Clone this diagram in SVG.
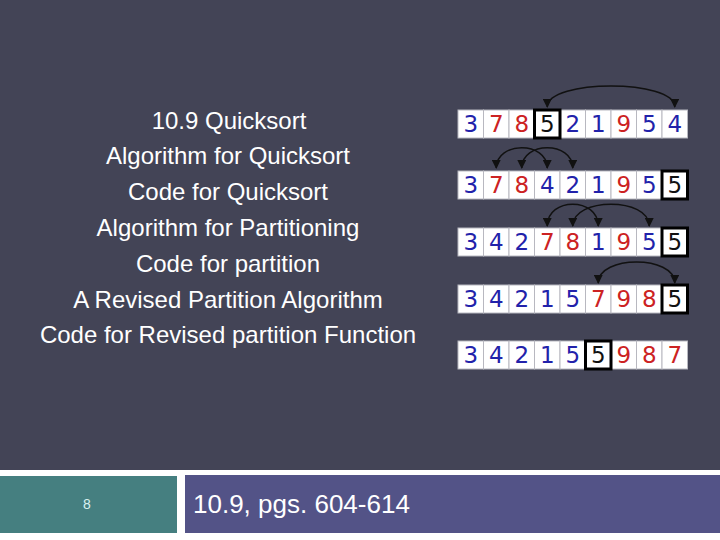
<svg xmlns="http://www.w3.org/2000/svg" width="720" height="540" viewBox="0 0 720 540">
<defs>
<style>
.t{font-family:"Liberation Sans",Arial,sans-serif;font-size:24px;fill:#ffffff;text-anchor:middle}
.c{fill:#ffffff;stroke:#b8b8c0;stroke-width:1}
.k{fill:#ffffff;stroke:#000000;stroke-width:3}
.d{font-family:"DejaVu Sans",sans-serif;font-size:23px;text-anchor:middle}
.b{fill:#2222aa}
.r{fill:#cc2222}
.n{fill:#111111}
.a{fill:none;stroke:#111111;stroke-width:1.5;marker-start:url(#ah);marker-end:url(#ah)}
</style>
<marker id="ah" viewBox="0 0 10 10" refX="9" refY="5" markerWidth="9" markerHeight="9" markerUnits="userSpaceOnUse" orient="auto-start-reverse">
<path d="M0,0 L10,5 L0,10 z" fill="#111111"/>
</marker>
</defs>
<rect x="0" y="0" width="720" height="540" fill="#434456"/>
<rect x="0" y="470" width="720" height="70" fill="#ffffff"/>
<g id="footer-num"><rect x="0" y="476" width="177" height="57" fill="#457f80"/><text x="87" y="509" font-family="Liberation Sans,Arial,sans-serif" font-size="14" fill="#d8f0f0" text-anchor="middle">8</text></g>
<g id="footer-title"><rect x="185" y="475" width="535" height="58" fill="#535387"/><text x="193" y="513" font-family="Liberation Sans,Arial,sans-serif" font-size="26" fill="#ffffff">10.9, pgs. 604-614</text></g>
<g id="menu">
<text class="t" x="229" y="129">10.9 Quicksort</text>
<text class="t" x="228" y="164">Algorithm for Quicksort</text>
<text class="t" x="228" y="200">Code for Quicksort</text>
<text class="t" x="228" y="236">Algorithm for Partitioning</text>
<text class="t" x="228" y="272">Code for partition</text>
<text class="t" x="228" y="308">A Revised Partition Algorithm</text>
<text class="t" x="228" y="343">Code for Revised partition Function</text>
</g>
<g id="row1">
<rect class="c" x="458" y="110" width="25.5" height="28"/><rect class="c" x="483.5" y="110" width="25.5" height="28"/><rect class="c" x="509" y="110" width="25.5" height="28"/><rect class="c" x="560" y="110" width="25.5" height="28"/><rect class="c" x="585.5" y="110" width="25.5" height="28"/><rect class="c" x="611" y="110" width="25.5" height="28"/><rect class="c" x="636.5" y="110" width="25.5" height="28"/><rect class="c" x="662" y="110" width="25.5" height="28"/><rect class="k" x="534.5" y="110" width="25.5" height="28"/>
<text class="d b" x="470.75" y="132">3</text><text class="d r" x="496.25" y="132">7</text><text class="d r" x="521.75" y="132">8</text><text class="d n" x="547.25" y="132">5</text><text class="d b" x="572.75" y="132">2</text><text class="d b" x="598.25" y="132">1</text><text class="d r" x="623.75" y="132">9</text><text class="d b" x="649.25" y="132">5</text><text class="d b" x="674.75" y="132">4</text>
</g>
<g id="row2">
<rect class="c" x="458" y="171" width="25.5" height="28"/><rect class="c" x="483.5" y="171" width="25.5" height="28"/><rect class="c" x="509" y="171" width="25.5" height="28"/><rect class="c" x="534.5" y="171" width="25.5" height="28"/><rect class="c" x="560" y="171" width="25.5" height="28"/><rect class="c" x="585.5" y="171" width="25.5" height="28"/><rect class="c" x="611" y="171" width="25.5" height="28"/><rect class="c" x="636.5" y="171" width="25.5" height="28"/><rect class="k" x="662" y="171" width="25.5" height="28"/>
<text class="d b" x="470.75" y="193">3</text><text class="d r" x="496.25" y="193">7</text><text class="d r" x="521.75" y="193">8</text><text class="d b" x="547.25" y="193">4</text><text class="d b" x="572.75" y="193">2</text><text class="d b" x="598.25" y="193">1</text><text class="d r" x="623.75" y="193">9</text><text class="d b" x="649.25" y="193">5</text><text class="d n" x="674.75" y="193">5</text>
</g>
<g id="row3">
<rect class="c" x="458" y="228" width="25.5" height="28"/><rect class="c" x="483.5" y="228" width="25.5" height="28"/><rect class="c" x="509" y="228" width="25.5" height="28"/><rect class="c" x="534.5" y="228" width="25.5" height="28"/><rect class="c" x="560" y="228" width="25.5" height="28"/><rect class="c" x="585.5" y="228" width="25.5" height="28"/><rect class="c" x="611" y="228" width="25.5" height="28"/><rect class="c" x="636.5" y="228" width="25.5" height="28"/><rect class="k" x="662" y="228" width="25.5" height="28"/>
<text class="d b" x="470.75" y="250">3</text><text class="d b" x="496.25" y="250">4</text><text class="d b" x="521.75" y="250">2</text><text class="d r" x="547.25" y="250">7</text><text class="d r" x="572.75" y="250">8</text><text class="d b" x="598.25" y="250">1</text><text class="d r" x="623.75" y="250">9</text><text class="d b" x="649.25" y="250">5</text><text class="d n" x="674.75" y="250">5</text>
</g>
<g id="row4">
<rect class="c" x="458" y="285" width="25.5" height="28"/><rect class="c" x="483.5" y="285" width="25.5" height="28"/><rect class="c" x="509" y="285" width="25.5" height="28"/><rect class="c" x="534.5" y="285" width="25.5" height="28"/><rect class="c" x="560" y="285" width="25.5" height="28"/><rect class="c" x="585.5" y="285" width="25.5" height="28"/><rect class="c" x="611" y="285" width="25.5" height="28"/><rect class="c" x="636.5" y="285" width="25.5" height="28"/><rect class="k" x="662" y="285" width="25.5" height="28"/>
<text class="d b" x="470.75" y="307">3</text><text class="d b" x="496.25" y="307">4</text><text class="d b" x="521.75" y="307">2</text><text class="d b" x="547.25" y="307">1</text><text class="d b" x="572.75" y="307">5</text><text class="d r" x="598.25" y="307">7</text><text class="d r" x="623.75" y="307">9</text><text class="d r" x="649.25" y="307">8</text><text class="d n" x="674.75" y="307">5</text>
</g>
<g id="row5">
<rect class="c" x="458" y="341" width="25.5" height="28"/><rect class="c" x="483.5" y="341" width="25.5" height="28"/><rect class="c" x="509" y="341" width="25.5" height="28"/><rect class="c" x="534.5" y="341" width="25.5" height="28"/><rect class="c" x="560" y="341" width="25.5" height="28"/><rect class="c" x="611" y="341" width="25.5" height="28"/><rect class="c" x="636.5" y="341" width="25.5" height="28"/><rect class="c" x="662" y="341" width="25.5" height="28"/><rect class="k" x="585.5" y="341" width="25.5" height="28"/>
<text class="d b" x="470.75" y="363">3</text><text class="d b" x="496.25" y="363">4</text><text class="d b" x="521.75" y="363">2</text><text class="d b" x="547.25" y="363">1</text><text class="d b" x="572.75" y="363">5</text><text class="d n" x="598.25" y="363">5</text><text class="d r" x="623.75" y="363">9</text><text class="d r" x="649.25" y="363">8</text><text class="d r" x="674.75" y="363">7</text>
</g>
<g id="connectors">
<path class="a" d="M547.25,107 C547.25,79 674.75,79 674.75,107"/>
<path class="a" d="M496.25,168 C496.25,141 547.25,141 547.25,168"/>
<path class="a" d="M521.75,168 C521.75,141 572.75,141 572.75,168"/>
<path class="a" d="M547.25,226 C547.25,197 598.25,197 598.25,226"/>
<path class="a" d="M572.75,226 C572.75,197 649.25,197 649.25,226"/>
<path class="a" d="M598.25,283 C598.25,255 674.75,255 674.75,283"/>
</g>
</svg>
